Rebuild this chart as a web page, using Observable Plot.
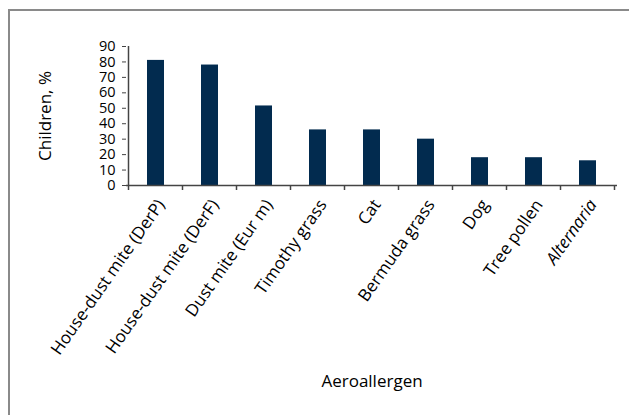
<!DOCTYPE html>
<html><head><meta charset="utf-8">
<script src="https://cdn.jsdelivr.net/npm/d3@7"></script>
<script src="https://cdn.jsdelivr.net/npm/@observablehq/plot@0.6"></script>
<style>
body{margin:0;background:#fff;}
#wrap{position:relative;width:629px;height:415px;overflow:hidden;background:#fff;}
#frame{position:absolute;left:8px;top:9px;width:700px;height:500px;border-left:2px solid #8a8a8a;border-top:2px solid #8a8a8a;}
#chart{position:absolute;left:0;top:0;}
</style></head><body>
<div id="wrap"><div id="frame"></div><div id="chart"></div></div>
<script>
const categories = ["House-dust mite (DerP)", "House-dust mite (DerF)", "Dust mite (Eur m)", "Timothy grass", "Cat", "Bermuda grass", "Dog", "Tree pollen", "Alternaria"];
const values = [81, 78, 51.5, 36, 36, 30, 18, 18, 16];
const italicCategories = ["Alternaria"];
const yTicks = [0, 10, 20, 30, 40, 50, 60, 70, 80, 90];
const yLabel = "Children, %";
const xLabel = "Aeroallergen";

const data = categories.map((c, i) => ({allergen: c, pct: values[i]}));
const axisColor = "#444";

const plot = Plot.plot({
  width: 629, height: 415,
  marginLeft: 126, marginRight: 12, marginTop: 46, marginBottom: 230,
  style: {fontFamily: "'Open Sans', sans-serif", fontSize: "15px", color: "#000", background: "transparent"},
  x: {domain: categories, paddingInner: 0.69, paddingOuter: 0.345},
  y: {domain: [0, 90]},
  marks: [
    Plot.barY(data, {x: "allergen", y: "pct", fill: "#022b4f"}),
    Plot.axisY({ticks: yTicks, tickSize: 4, tickPadding: 7, stroke: axisColor, fill: "#000", fontSize: 14.5, label: null}),
    Plot.axisX({tickSize: 0, tickRotate: -55, tickPadding: 16, dx: 5, fill: "#000", fontSize: 17, label: null}),
    Plot.ruleY([0], {stroke: axisColor, strokeWidth: 1.5}),
    Plot.text([yLabel], {text: d => d, frameAnchor: "left", textAnchor: "middle", lineAnchor: "middle", rotate: -90, dx: -81, fontSize: 17, fill: "#000"}),
    Plot.text([xLabel], {text: d => d, frameAnchor: "bottom", textAnchor: "middle", lineAnchor: "middle", dy: 196, fontSize: 17, fill: "#000"})
  ]
});
document.getElementById("chart").appendChild(plot);

const svg = d3.select(plot);
const xs = plot.scale("x"), ys = plot.scale("y");
const bw = xs.bandwidth, step = xs.step;
const bounds = categories.map(c => xs.apply(c) + bw / 2 - step / 2);
bounds.push(xs.apply(categories[categories.length - 1]) + bw / 2 + step / 2);
const y0 = ys.apply(0), yTop = ys.apply(d3.max(yTicks));
const g = svg.append("g").attr("stroke", axisColor).attr("stroke-width", 1.5);
g.selectAll("line.xt").data(bounds).join("line")
  .attr("x1", d => d).attr("x2", d => d).attr("y1", y0).attr("y2", y0 + 5);
g.append("line").attr("x1", bounds[0]).attr("x2", bounds[0]).attr("y1", y0).attr("y2", yTop);

svg.selectAll('[aria-label="x-axis tick label"] text')
  .filter(function() { return italicCategories.includes(this.textContent); })
  .attr("font-style", "italic");
</script>
</body></html>
